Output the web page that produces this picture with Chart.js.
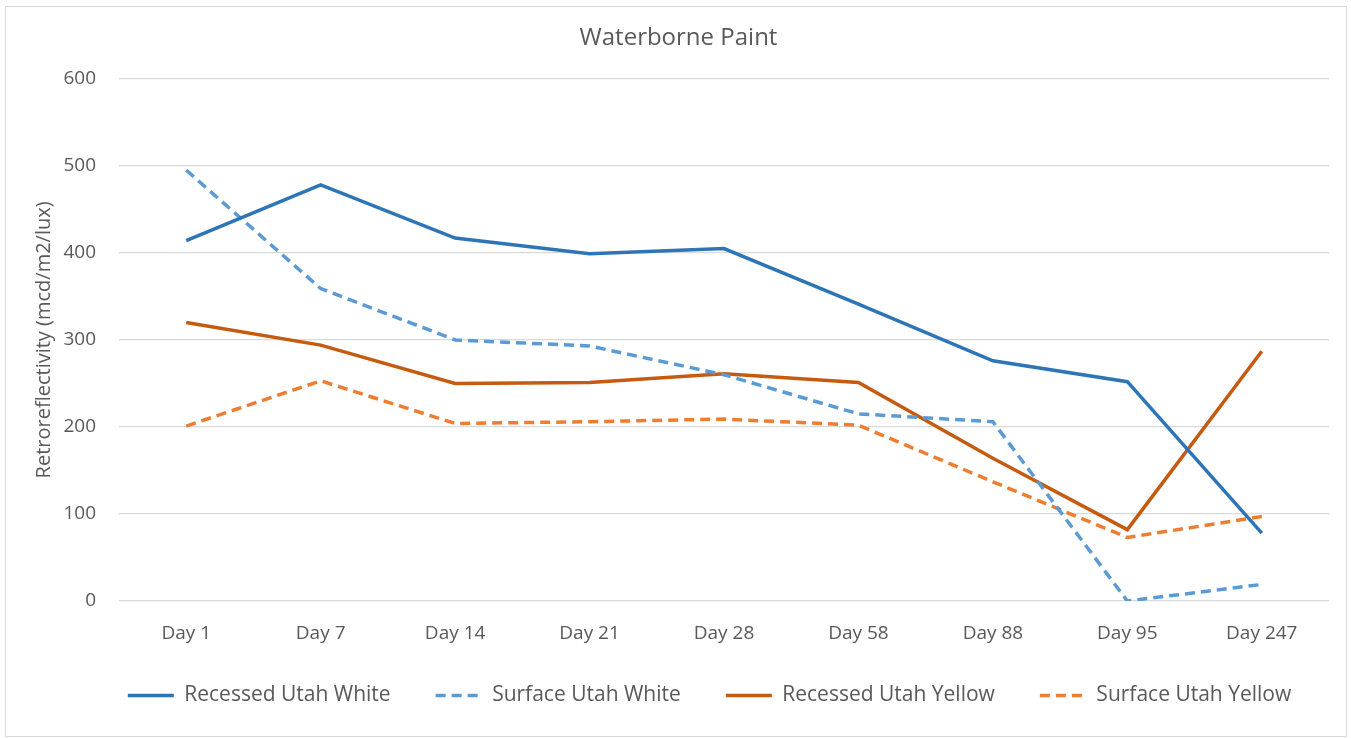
<!DOCTYPE html>
<html>
<head>
<meta charset="utf-8">
<script src="https://cdn.jsdelivr.net/npm/chart.js@4.4.0/dist/chart.umd.min.js"></script>
<style>
  body { margin: 0; background: #fff; }
  #wrap { position: absolute; left: 5px; top: 6px; width: 1340px; height: 729px; border: 1px solid #d9d9d9; overflow: hidden; }
</style>
</head>
<body>
<div id="wrap"><canvas id="chart" width="1340" height="729"></canvas></div>
<script>
const days = ["Day 1", "Day 7", "Day 14", "Day 21", "Day 28", "Day 58", "Day 88", "Day 95", "Day 247"];
const recessedWhite = [414, 478, 417, 399, 405, 341, 276, 252, 78];
const surfaceWhite = [495, 359, 300, 293, 260, 215, 206, 0, 19];
const recessedYellow = [320, 294, 250, 251, 261, 251, 164, 82, 287];
const surfaceYellow = [201, 253, 204, 206, 209, 202, 137, 73, 97];
const yTicks = [0, 100, 200, 300, 400, 500, 600];

const grey = "#595959";
const font = "'Open Sans', 'DejaVu Sans', sans-serif";

function serie(label, data, color, dashed) {
  return {
    label: label,
    data: data,
    borderColor: color,
    backgroundColor: color,
    borderWidth: 3.5,
    borderDash: dashed ? [10, 6] : [],
    pointRadius: 0,
    tension: 0,
    fill: false
  };
}

// legend uses wide item spacing, so keep its box short and nudge it into place
const legendFix = {
  id: "legendFix",
  beforeLayout(chart) {
    const lg = chart.legend;
    if (lg && !lg._short) {
      const fit = lg.fit;
      lg.fit = function() { fit.call(this); this.height = 87; };
      lg._short = true;
    }
  },
  afterLayout(chart) {
    const lg = chart.legend;
    lg.left += 31; lg.right += 31;
    lg.top -= 9; lg.bottom -= 9;
  }
};

new Chart(document.getElementById("chart").getContext("2d"), {
  type: "line",
  data: {
    labels: days,
    datasets: [
      serie("Recessed Utah White", recessedWhite, "#2e75b6", false),
      serie("Surface Utah White", surfaceWhite, "#5b9bd5", true),
      serie("Recessed Utah Yellow", recessedYellow, "#c55a11", false),
      serie("Surface Utah Yellow", surfaceYellow, "#ed7d31", true)
    ]
  },
  plugins: [legendFix],
  options: {
    responsive: false,
    animation: false,
    layout: { padding: { left: 22, right: 17, bottom: 0 } },
    plugins: {
      title: {
        display: true,
        text: "Waterborne Paint",
        color: grey,
        font: { family: font, size: 24, weight: "normal" },
        padding: { top: 17, bottom: 26 }
      },
      legend: {
        position: "bottom",
        labels: {
          color: grey,
          font: { family: font, size: 21 },
          usePointStyle: true,
          pointStyle: "line",
          pointStyleWidth: 46,
          boxHeight: 19,
          padding: 45,
          generateLabels: function(chart) {
            const items = Chart.defaults.plugins.legend.labels.generateLabels(chart);
            return items.map(function(it, i) {
              const ds = chart.data.datasets[i];
              it.lineDash = ds.borderDash;
              it.lineWidth = 3.5;
              it.strokeStyle = ds.borderColor;
              it.pointStyle = "line";
              return it;
            });
          }
        }
      },
      tooltip: { enabled: false }
    },
    scales: {
      x: {
        offset: true,
        grid: { display: false },
        border: { display: false },
        ticks: { color: grey, font: { family: font, size: 19 }, padding: 13, maxRotation: 0 },
        afterFit: function(s) { s.height = 48; }
      },
      y: {
        min: 0,
        max: 600,
        afterBuildTicks: function(s) { s.ticks = yTicks.map(v => ({ value: v })); },
        grid: { color: "#d9d9d9", lineWidth: 1.3, drawTicks: false },
        border: { display: false },
        ticks: { color: grey, font: { family: font, size: 19 }, padding: 23 },
        title: {
          display: true,
          text: "Retroreflectivity (mcd/m2/lux)",
          color: grey,
          font: { family: font, size: 20 }
        },
        afterFit: function(s) { s.width = 91; }
      }
    }
  }
});
</script>
</body>
</html>
